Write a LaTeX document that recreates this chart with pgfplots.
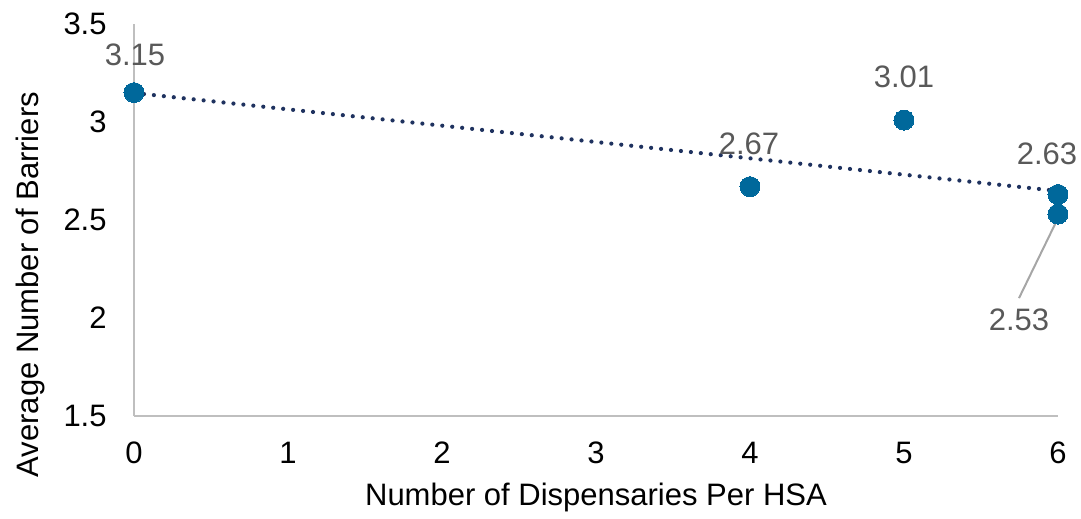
\documentclass[border=0pt]{standalone}
\usepackage{pgfplots}
\pgfplotsset{compat=1.18}
\usepackage{pgfplotstable}
\usepackage{fontspec}
\setmainfont{Liberation Sans}
\definecolor{mk}{RGB}{0,104,155}
\definecolor{trend}{RGB}{31,50,95}
\definecolor{axgray}{RGB}{191,191,191}
\definecolor{lblgray}{RGB}{89,89,89}
\definecolor{leader}{RGB}{166,166,166}
\pgfplotstableread{
x y label dx dy
0 3.15 3.15 0.5 19
4 2.67 2.67 -0.5 21.5
5 3.01 3.01 0 21.5
6 2.53 2.53 -19.5 -53
6 2.63 2.63 -5.5 20.5
}\pts
\begin{document}
\begin{tikzpicture}
\begin{axis}[
  scale only axis,
  width=462pt, height=196pt,
  xmin=0, xmax=6, ymin=1.5, ymax=3.5,
  xtick={0,1,2,3,4,5,6},
  ytick={1.5,2,2.5,3,3.5},
  yticklabels={1.5,2,2.5,3,3.5},
  axis x line*=bottom, axis y line*=left,
  axis line style={-, color=axgray, line width=1.2pt},
  major tick length=0pt,
  /pgf/number format/assume math mode=true,
  font=\fontsize{15.5}{18}\selectfont,
  xticklabel style={anchor=center, yshift=-18.5pt, inner sep=0pt},
  yticklabel style={anchor=east, xshift=-13.5pt, inner sep=0pt},
  xlabel={Number of Dispensaries Per HSA},
  ylabel={Average Number of Barriers},
  every axis x label/.style={at={(axis description cs:0.5,0)}, yshift=-40.5pt, anchor=center},
  every axis y label/.style={at={(axis description cs:0,0.335)}, xshift=-52pt, rotate=90, anchor=center},
  clip=false,
]
\addplot[color=mk, only marks, mark=*, mark size=5pt, mark options={draw=mk, fill=mk, line width=0pt},
  nodes near coords, point meta=explicit symbolic,
  visualization depends on={\thisrow{dx} \as \dx},
  visualization depends on={\thisrow{dy} \as \dy},
  every node near coord/.style={anchor=center, xshift=\dx pt, yshift=\dy pt, text=lblgray, inner sep=0pt, font=\fontsize{15.5}{18}\selectfont},
] table[x=x, y=y, meta=label] {\pts};
\addplot[trend, line width=2.1pt, line cap=round, dash pattern=on 0pt off 5pt] coordinates {(0,3.148) (6,2.648)};
\draw[leader, line width=1pt] (axis cs:6,2.53) ++(0pt,-2pt) -- ++(-19.5pt,-40pt);
\end{axis}
\useasboundingbox (-67pt,-50.5pt) rectangle (473.5pt,208pt);
\end{tikzpicture}
\end{document}
